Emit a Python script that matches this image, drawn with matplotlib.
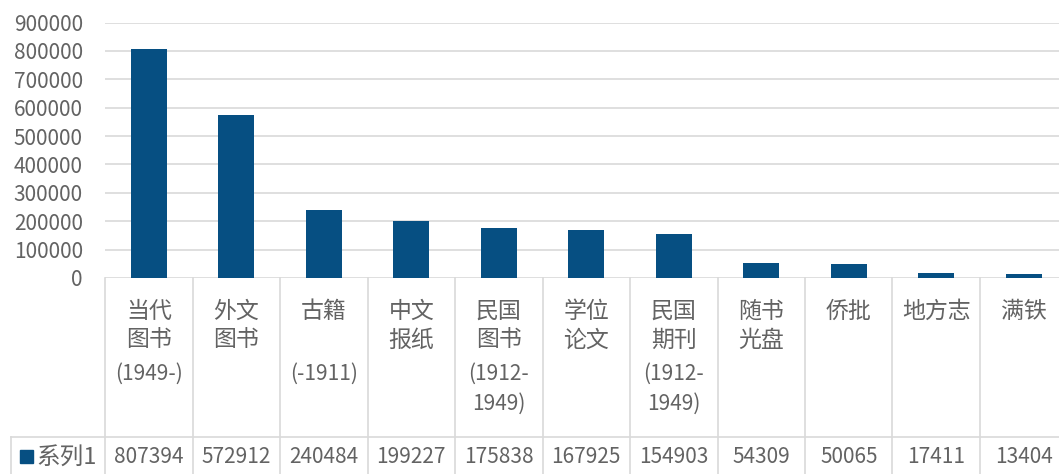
import matplotlib
matplotlib.use("Agg")
import matplotlib.pyplot as plt
from matplotlib.lines import Line2D
from matplotlib.patches import Rectangle

plt.rcParams['font.family'] = ['Noto Sans CJK SC', 'DejaVu Sans']

# data
cat_lines = [
    ["当代", "图书", "(1949-)"],
    ["外文", "图书"],
    ["古籍", "", "(-1911)"],
    ["中文", "报纸"],
    ["民国", "图书", "(1912-", "1949)"],
    ["学位", "论文"],
    ["民国", "期刊", "(1912-", "1949)"],
    ["随书", "光盘"],
    ["侨批"],
    ["地方志"],
    ["满铁"],
]
values = [807394, 572912, 240484, 199227, 175838, 167925, 154903, 54309, 50065, 17411, 13404]
series_name = "系列1"
yticks = list(range(0, 900001, 100000))

W, H = 1059, 474
bar_color = "#064F82"
txt = "#636363"
grid = "#d9d9d9"

fig = plt.figure(figsize=(W / 100, H / 100), dpi=100)
x0, cw = 105, 87.5
n = len(values)
ax = fig.add_axes([x0 / W, (H - 278) / H, n * cw / W, (278 - 22.5) / H])
x = list(range(n))
ax.bar(x, values, width=0.41, color=bar_color, zorder=3)
ax.set_xlim(-0.5, n - 0.5)
ax.set_ylim(0, 900000)
ax.set_yticks(yticks)
ax.set_yticklabels([str(v) for v in yticks], fontsize=15, color=txt)
ax.tick_params(axis='y', length=0, pad=16)
ax.set_xticks([])
ax.yaxis.grid(True, color=grid, linewidth=1.2, zorder=0)
for s in ax.spines.values():
    s.set_visible(False)


def fx(px):
    return px / W


def fy(py):
    return 1 - py / H


# table grid
for i in range(n + 1):
    xp = x0 + i * cw
    fig.add_artist(Line2D([fx(xp), fx(xp)], [fy(278), fy(H)], color=grid, lw=1.2))
fig.add_artist(Line2D([fx(11), fx(W)], [fy(436.5), fy(436.5)], color=grid, lw=1.2))
fig.add_artist(Line2D([fx(11), fx(11)], [fy(436.5), fy(H)], color=grid, lw=1.2))

# category labels
line_y = [311, 340, 374, 404]
for i, lines in enumerate(cat_lines):
    cx = x0 + (i + 0.5) * cw
    for j, t in enumerate(lines):
        if not t:
            continue
        fs = 16.5 if not t[0] in "(0123456789" else 15
        fig.text(fx(cx), fy(line_y[j]), t, ha='center', va='center', fontsize=fs, color=txt)

# data row
for i, v in enumerate(values):
    cx = x0 + (i + 0.5) * cw
    fig.text(fx(cx), fy(457), str(v), ha='center', va='center', fontsize=15, color=txt)
fig.add_artist(Rectangle((fx(20), fy(463)), 13 / W, 13 / H, color=bar_color))
fig.text(fx(36), fy(457), series_name, ha='left', va='center', fontsize=17, color=txt)

plt.savefig("out.png", dpi=100)
